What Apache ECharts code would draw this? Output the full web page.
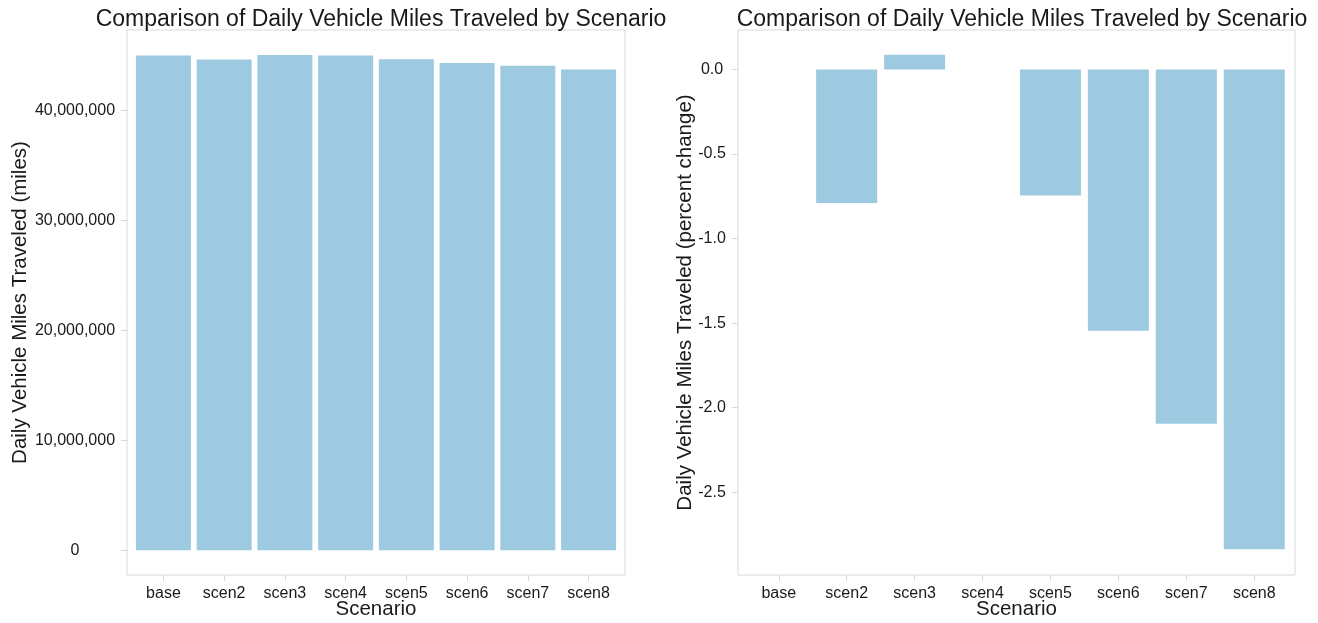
<!DOCTYPE html>
<html lang="en">
<head>
    <meta charset="UTF-8">
    <title>VMT by scenario</title>
</head>
<body style="margin:0;background:#fff;">
<div id="main" style="width: 1318px;height:623px;"></div>
</body>
<script src="https://cdn.jsdelivr.net/npm/echarts@6.0.0/dist/echarts.min.js"></script>
<script>

// data
const scenarios = ['base', 'scen2', 'scen3', 'scen4', 'scen5', 'scen6', 'scen7', 'scen8']
const dailyVmt = [44980000, 44620000, 45030000, 44980000, 44640000, 44290000, 44040000, 43710000]
const pctChange = [0, -0.79, 0.088, 0, -0.745, -1.545, -2.095, -2.838]
const vmtTicks = [0, 10000000, 20000000, 30000000, 40000000]
const pctTicks = [-2.5, -2.0, -1.5, -1.0, -0.5, 0.0]
const catPos = [1, 2, 3, 4, 5, 6, 7, 8]

const TITLE = 'Comparison of Daily Vehicle Miles Traveled by Scenario'
const FONT = '"Liberation Sans", Arial, sans-serif'
const BAR = '#9ECAE1'
const FRAME = '#D9D9D9'

let chartDom = document.getElementById('main');
let myChart = echarts.init(chartDom);

function xAxisFor(gridIndex) {
    return {
        type: 'value',
        gridIndex: gridIndex,
        min: 0.4,
        max: 8.6,
        name: 'Scenario',
        nameLocation: 'middle',
        nameGap: 24,
        nameMoveOverlap: false,
        nameTextStyle: {fontFamily: FONT, fontSize: 20.5, color: '#1a1a1a', verticalAlign: 'top'},
        axisLine: {show: false, onZero: false},
        splitLine: {show: false},
        axisTick: {show: true, length: 6, customValues: catPos, lineStyle: {color: FRAME}},
        axisLabel: {
            customValues: catPos,
            margin: 11,
            fontFamily: FONT, fontSize: 16, color: '#1a1a1a',
            formatter: v => scenarios[Math.round(v) - 1] || ''
        }
    }
}

let option = {
    animation: false,
    title: [
        {text: TITLE, left: 376, top: 3, textAlign: 'center',
            textStyle: {fontFamily: FONT, fontSize: 23, fontWeight: 'normal', color: '#1a1a1a'}},
        {text: TITLE, left: 1017, top: 3, textAlign: 'center',
            textStyle: {fontFamily: FONT, fontSize: 23, fontWeight: 'normal', color: '#1a1a1a'}}
    ],
    grid: [
        {left: 127, right: 693, top: 30, bottom: 48, show: true, borderColor: FRAME, borderWidth: 1,
            outerBoundsMode: 'none'},
        {left: 738, right: 23, top: 30, bottom: 48, show: true, borderColor: FRAME, borderWidth: 1,
            outerBoundsMode: 'none'}
    ],
    xAxis: [xAxisFor(0), xAxisFor(1)],
    yAxis: [
        {
            type: 'value',
            gridIndex: 0,
            min: -2250000,
            max: 47300000,
            name: 'Daily Vehicle Miles Traveled (miles)',
            nameLocation: 'middle',
            nameGap: 96,
            nameMoveOverlap: false,
            nameTextStyle: {fontFamily: FONT, fontSize: 20.5, color: '#1a1a1a'},
            axisLine: {show: false, onZero: false},
            splitLine: {show: false},
            axisTick: {show: true, length: 6, customValues: vmtTicks, lineStyle: {color: FRAME}},
            axisLabel: {
                customValues: vmtTicks,
                margin: 52,
                align: 'center',
                fontFamily: FONT, fontSize: 16, color: '#1a1a1a',
                formatter: v => v.toLocaleString('en-US')
            }
        },
        {
            type: 'value',
            gridIndex: 1,
            min: -2.99,
            max: 0.234,
            name: 'Daily Vehicle Miles Traveled (percent change)',
            nameLocation: 'middle',
            nameGap: 42,
            nameMoveOverlap: false,
            nameTextStyle: {fontFamily: FONT, fontSize: 20.5, color: '#1a1a1a'},
            axisLine: {show: false, onZero: false},
            splitLine: {show: false},
            axisTick: {show: true, length: 6, customValues: pctTicks, lineStyle: {color: FRAME}},
            axisLabel: {
                customValues: pctTicks,
                margin: 26,
                align: 'center',
                fontFamily: FONT, fontSize: 16, color: '#1a1a1a',
                formatter: v => (Math.abs(v) < 1e-9 ? 0 : v).toFixed(1)
            }
        }
    ],
    series: [
        {
            type: 'bar',
            xAxisIndex: 0,
            yAxisIndex: 0,
            barWidth: 55,
            itemStyle: {color: BAR},
            data: dailyVmt.map((v, i) => [catPos[i], v])
        },
        {
            type: 'bar',
            xAxisIndex: 1,
            yAxisIndex: 1,
            barWidth: 61,
            itemStyle: {color: BAR},
            data: pctChange.map((v, i) => [catPos[i], v])
        }
    ]
}

option && myChart.setOption(option);

</script>
</html>
